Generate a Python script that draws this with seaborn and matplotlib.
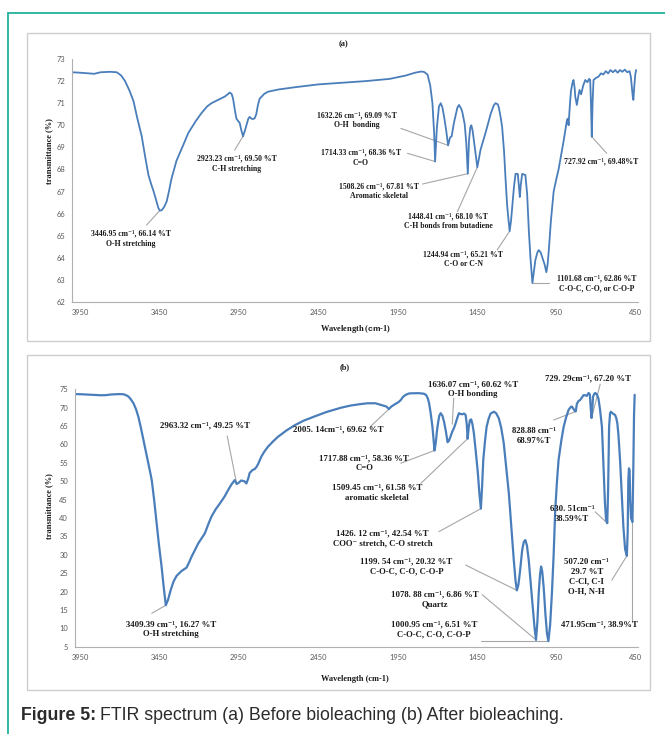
import matplotlib
matplotlib.use("Agg")
import matplotlib.pyplot as plt
from matplotlib.lines import Line2D
from matplotlib.patches import Rectangle
import pandas as pd
import seaborn as sns

# ---------------- spectrum (a): before bioleaching ----------------
wn_a = [4000, 3950, 3900, 3860, 3820, 3760, 3718, 3690, 3666, 3640, 3613, 3590, 3561, 3540,
        3519, 3500, 3488, 3470, 3456, 3446.95, 3436, 3420, 3404, 3390, 3373, 3342, 3300, 3268,
        3220, 3185, 3150, 3122, 3080, 3038, 3020, 3007, 2995, 2986, 2975, 2965, 2955, 2944,
        2935, 2923.23, 2912, 2902, 2890, 2882, 2870, 2861, 2850, 2840, 2830, 2819, 2790, 2766,
        2700, 2599, 2450, 2306, 2150, 2000, 1900, 1840, 1805, 1785, 1762, 1745, 1731, 1720,
        1714.33, 1703, 1690, 1679, 1668, 1658, 1645, 1632.26, 1620, 1610, 1596, 1574, 1564,
        1550, 1543, 1528, 1518, 1508.26, 1501, 1493, 1486, 1478, 1470, 1460, 1448.41, 1438,
        1428, 1397, 1365, 1345, 1334, 1320, 1313, 1300, 1292, 1280, 1271, 1261, 1252, 1244.94,
        1236, 1229, 1218, 1208, 1194, 1186, 1181, 1175, 1166, 1146, 1135, 1124, 1114, 1101.68,
        1092, 1083, 1070, 1062, 1050, 1041, 1025, 1014, 1006, 999, 985, 968, 950, 937, 920,
        905, 890, 884, 878, 874, 866, 859, 850, 843, 836, 832, 822, 812, 805, 795, 782, 769,
        755, 745, 738, 733, 727.92, 723, 717, 700, 686, 670, 655, 640, 625, 610, 595, 580, 565,
        550, 535, 520, 505, 490, 482, 476, 470, 466, 460, 454, 449]
t_a = [72.40, 72.38, 72.35, 72.33, 72.40, 72.42, 72.40, 72.25, 72.00, 71.60, 71.10, 70.35, 69.50,
       68.60, 67.75, 67.30, 67.05, 66.60, 66.25, 66.14, 66.15, 66.30, 66.55, 67.00, 67.60, 68.40,
       69.10, 69.65, 70.20, 70.55, 70.85, 71.00, 71.15, 71.30, 71.40, 71.48, 71.42, 71.20, 70.70,
       70.30, 70.20, 70.10, 69.80, 69.50, 69.75, 70.00, 70.30, 70.38, 70.30, 70.28, 70.32, 70.50,
       70.90, 71.20, 71.42, 71.52, 71.62, 71.72, 71.85, 71.92, 72.00, 72.10, 72.25, 72.38, 72.43,
       72.42, 72.30, 71.80, 71.00, 69.60, 68.36, 69.90, 70.85, 71.00, 70.80, 70.40, 69.80, 69.09,
       69.45, 69.50, 70.10, 70.80, 70.92, 70.75, 70.60, 70.05, 69.20, 67.81, 69.30, 69.90, 70.00,
       69.75, 69.30, 68.70, 68.10, 68.50, 68.90, 69.65, 70.50, 70.90, 71.00, 70.95, 70.80, 70.30,
       69.90, 68.80, 67.60, 66.40, 65.70, 65.21, 65.70, 66.30, 67.20, 67.80, 67.80, 67.20, 66.75,
       67.30, 67.80, 67.75, 66.90, 65.20, 64.00, 62.86, 63.40, 63.90, 64.25, 64.35, 64.25, 64.05,
       63.70, 63.35, 63.70, 64.30, 65.70, 67.00, 67.60, 68.00, 68.70, 69.30, 70.00, 70.25, 70.30,
       70.00, 70.90, 71.55, 71.90, 72.05, 71.70, 71.30, 70.92, 71.35, 71.60, 71.40, 71.80, 72.05,
       71.95, 72.10, 72.05, 71.00, 69.48, 71.00, 72.05, 72.15, 72.20, 72.35, 72.30, 72.45, 72.35,
       72.50, 72.40, 72.50, 72.38, 72.50, 72.42, 72.52, 72.40, 72.45, 72.20, 71.75, 71.30, 71.15,
       71.80, 72.30, 72.50]

# ---------------- spectrum (b): after bioleaching ----------------
wn_b = [3981, 3940, 3900, 3854, 3820, 3791, 3750, 3700, 3675, 3655, 3644, 3630, 3613, 3597, 3582,
        3566, 3550, 3535, 3519, 3508, 3498, 3483, 3467, 3452, 3436, 3422, 3409.39, 3395, 3378,
        3360, 3341, 3310, 3279, 3262, 3247, 3205, 3164, 3140, 3122, 3095, 3070, 3040, 3017, 2995,
        2976, 2963.32, 2950, 2935, 2915, 2902, 2890, 2882, 2865, 2850, 2840, 2829, 2808, 2790,
        2766, 2735, 2703, 2650, 2599, 2540, 2474, 2400, 2306, 2244, 2180, 2139, 2090, 2050, 2020,
        2005.14, 1990, 1965, 1945, 1930, 1915, 1899, 1880, 1867, 1820, 1784, 1770, 1760, 1752,
        1742, 1731, 1722, 1717.88, 1710, 1703, 1696, 1688, 1679, 1668, 1658, 1646, 1636.07, 1627,
        1616, 1606, 1595, 1585, 1574, 1564, 1554, 1543, 1532, 1522, 1515, 1509.45, 1503, 1495,
        1487, 1479, 1470, 1458, 1445, 1436, 1426.12, 1419, 1411, 1400, 1390, 1378, 1365, 1344,
        1330, 1313, 1298, 1282, 1266, 1250, 1234, 1219, 1208, 1199.54, 1190, 1181, 1173, 1166,
        1156, 1146, 1136, 1125, 1110, 1097, 1088, 1078.88, 1070, 1062, 1054, 1047, 1040, 1031,
        1020, 1010, 1000.95, 990, 979, 968, 958, 947, 937, 920, 905, 890, 874, 860, 853, 845, 836,
        828.88, 822, 812, 801, 790, 780, 770, 759, 748, 740, 735, 729.29, 724, 720, 712, 706, 696,
        686, 676, 664, 655, 645, 638, 630.51, 625, 619, 613, 608, 595, 581, 574, 567, 560, 550,
        540, 529, 518, 507.20, 502, 498, 494, 490, 486, 481, 471.95, 466, 462, 458]
t_b = [73.70, 73.65, 73.55, 73.45, 73.38, 73.40, 73.60, 73.70, 73.65, 73.30, 73.00, 72.30, 71.20,
       69.60, 67.50, 64.50, 61.20, 58.00, 54.90, 52.50, 50.30, 45.00, 38.60, 32.50, 26.80, 21.00,
       16.27, 17.80, 20.50, 22.80, 24.30, 25.60, 26.50, 28.00, 29.50, 33.10, 35.80, 38.50, 40.40,
       42.40, 43.90, 45.80, 47.60, 49.20, 50.30, 49.25, 49.60, 50.20, 50.00, 49.40, 50.80, 52.20,
       53.00, 53.30, 53.80, 54.60, 56.70, 58.00, 59.40, 60.80, 62.10, 63.80, 65.20, 66.50, 67.60,
       68.80, 70.00, 70.60, 71.00, 71.20, 71.20, 70.70, 70.30, 69.62, 70.30, 71.00, 71.50, 72.10,
       73.00, 73.50, 73.85, 73.90, 73.95, 73.80, 73.40, 72.50, 71.20, 68.50, 64.80, 60.50, 58.36,
       60.50, 63.50, 65.75, 67.80, 68.50, 67.80, 66.20, 63.50, 60.62, 61.00, 62.30, 63.50, 64.50,
       65.75, 67.30, 68.50, 68.30, 68.20, 68.40, 68.00, 65.50, 61.58, 64.50, 66.60, 66.80, 65.50,
       63.00, 58.00, 52.20, 47.00, 42.54, 48.00, 55.80, 61.00, 64.80, 66.90, 68.40, 68.90, 68.50,
       67.10, 64.50, 60.30, 53.50, 46.70, 37.50, 28.60, 23.00, 20.32, 21.80, 25.00, 28.50, 31.30,
       33.50, 34.00, 32.50, 28.60, 21.00, 14.10, 10.00, 6.86, 12.00, 19.50, 24.50, 26.80, 25.50,
       21.30, 14.00, 8.60, 6.51, 11.00, 19.50, 30.00, 42.20, 50.00, 55.80, 61.00, 64.80, 67.30,
       69.40, 70.20, 70.30, 69.80, 69.20, 68.97, 71.00, 71.80, 72.10, 72.80, 73.40, 73.40, 73.20,
       74.00, 73.60, 70.00, 67.20, 70.00, 73.00, 73.80, 74.00, 73.60, 72.50, 69.50, 64.80, 55.00,
       44.00, 39.50, 38.59, 48.00, 64.80, 68.40, 68.90, 68.40, 68.00, 67.20, 65.75, 62.50, 55.80,
       47.00, 37.60, 31.50, 29.70, 36.00, 50.00, 53.50, 53.00, 45.00, 40.00, 38.90, 55.00, 68.00,
       73.50]

# ---------------- annotated bands ----------------
peak_wn_a = [3446.95, 2923.23, 1632.26, 1714.33, 1508.26, 1448.41, 1244.94, 1101.68, 727.92]
peak_t_a = [66.14, 69.50, 69.09, 68.36, 67.81, 68.10, 65.21, 62.86, 69.48]
labels_a = [
    "3446.95 cm⁻¹, 66.14 %T\nO-H stretching",
    "2923.23 cm⁻¹, 69.50 %T\nC-H stretching",
    "1632.26 cm⁻¹, 69.09 %T\nO-H  bonding",
    "1714.33 cm⁻¹, 68.36 %T\nC=O",
    "1508.26 cm⁻¹, 67.81 %T\nAromatic skeletal",
    "1448.41 cm⁻¹, 68.10 %T\nC-H bonds from butadiene",
    "1244.94 cm⁻¹, 65.21 %T\nC-O or C-N",
    "1101.68 cm⁻¹, 62.86 %T\nC-O-C, C-O, or C-O-P",
    "727.92 cm⁻¹, 69.48%T",
]

peak_wn_b = [3409.39, 2963.32, 2005.14, 1636.07, 1717.88, 1509.45, 1426.12, 1199.54,
             1078.88, 1000.95, 828.88, 729.29, 630.51, 507.20, 471.95]
peak_t_b = [16.27, 49.25, 69.62, 60.62, 58.36, 61.58, 42.54, 20.32,
            6.86, 6.51, 68.97, 67.20, 38.59, 29.7, 38.9]
labels_b = [
    "3409.39 cm⁻¹, 16.27 %T\nO-H stretching",
    "2963.32 cm⁻¹, 49.25 %T",
    "2005. 14cm⁻¹, 69.62 %T",
    "1636.07 cm⁻¹, 60.62 %T\nO-H bonding",
    "1717.88 cm⁻¹, 58.36 %T\nC=O",
    "1509.45 cm⁻¹, 61.58 %T\naromatic skeletal",
    "1426. 12 cm⁻¹, 42.54 %T\nCOO⁻ stretch, C-O stretch",
    "1199. 54 cm⁻¹, 20.32 %T\nC-O-C, C-O, C-O-P",
    "1078. 88 cm⁻¹, 6.86 %T\nQuartz",
    "1000.95 cm⁻¹, 6.51 %T\nC-O-C, C-O, C-O-P",
    "828.88 cm⁻¹\n68.97%T",
    "729. 29cm⁻¹, 67.20 %T",
    "630. 51cm⁻¹\n38.59%T",
    "507.20 cm⁻¹\n29.7 %T\nC-Cl, C-I\nO-H, N-H",
    "471.95cm⁻¹, 38.9%T",
]

x_ticks = [3950, 3450, 2950, 2450, 1950, 1450, 950, 450]
y_ticks_a = list(range(62, 74))
y_ticks_b = list(range(5, 80, 5))

# label placement (text centre, leader start) in data units
text_pos_a = [(3630, 64.87), (2963, 68.26), (2206, 70.22), (2181, 68.52), (2068, 67.01),
              (1633, 65.65), (1538, 63.93), (700, 62.83), (669, 68.35)]
lead_a = [(3530, 65.49), (2976, 68.88), (1930, 69.86), (1888, 68.73), (1794, 67.34),
          (1574, 66.09), (1323, 64.36), (999, 62.86), (634, 68.73)]
text_pos_b = [(3379, 9.73), (3161, 65.3), (2327, 64.1), (1478, 75.1), (2160, 55.0), (2080, 46.85),
              (2045, 34.4), (1895, 26.9), (1717, 17.8), (1721, 9.76), (1089, 62.4), (754, 78.0),
              (851, 41.1), (760, 24.1), (681, 11.1)]
lead_b = [(3498, 14.08), (3023, 62.3), (2118, 65.0), (1597, 72.6), (1930, 54.9), (1804, 49.4),
          (1690, 36.3), (1522, 27.2), (1417, 19.1), (1428, 6.51), (968, 66.65), (675, 76.4),
          (707, 41.7), (602, 23.1), (471.95, 11.8)]
lead_end_override_b = {3: (1606, 65.5)}

# ---------------- styling ----------------
W, H = 665, 734
sns.set_theme(style="white")
SERIF = ["Liberation Serif", "DejaVu Serif"]
plt.rcParams.update({
    "font.family": SERIF,
    "mathtext.fontset": "custom",
    "mathtext.rm": "Liberation Serif:bold",
    "mathtext.sf": "Liberation Sans:bold",
    "mathtext.default": "rm",
})

LINE = "#4a7ebb"
LEAD = "#a6a6a6"
TXT = "#1a1a1a"
TEAL = "#22b29e"
TICK = "#595959"


def fx(px):
    return px / W


def fy(py):
    return 1 - py / H


fig = plt.figure(figsize=(W / 100, H / 100), dpi=100)
fig.patch.set_facecolor("white")

# outer page rules
fig.add_artist(Line2D([fx(8), fx(8)], [0, fy(13)], transform=fig.transFigure, color=TEAL, lw=1.3))
fig.add_artist(Line2D([fx(8), 1], [fy(13), fy(13)], transform=fig.transFigure, color=TEAL, lw=1.3))

# panel frames
for top, bottom in [(33, 341), (355, 690)]:
    fig.add_artist(Rectangle((fx(27), fy(bottom)), fx(650) - fx(27), fy(top) - fy(bottom),
                             transform=fig.transFigure, fill=False, edgecolor="#cdcdcd", lw=1.0))


def make_axes(left, right, top, bottom):
    return fig.add_axes([fx(left), fy(bottom), fx(right) - fx(left), fy(top) - fy(bottom)])


def style_axes(ax, xlim, ylim, yticks):
    ax.set_xlim(*xlim)
    ax.set_ylim(*ylim)
    ax.set_xticks(x_ticks)
    ax.set_xticklabels([str(v) for v in x_ticks])
    ax.set_yticks(yticks)
    ax.set_yticklabels([str(v) for v in yticks])
    ax.set_xlabel("")
    ax.set_ylabel("")
    for s in ["top", "right"]:
        ax.spines[s].set_visible(False)
    for s in ["left", "bottom"]:
        ax.spines[s].set_color("#b0b0b0")
        ax.spines[s].set_linewidth(0.8)
    ax.tick_params(axis="both", which="major", direction="out", length=2.5, width=0.6,
                   color="#a0a0a0", labelsize=5.4, labelcolor=TICK, pad=2.5)
    for lab in ax.get_xticklabels() + ax.get_yticklabels():
        lab.set_fontfamily("Lato")
    ax.set_facecolor("none")


def draw_labels(ax, peaks_x, peaks_y, labels, pos, leads, size, spacing, overrides=None):
    overrides = overrides or {}
    for i, (px_, py_, lab) in enumerate(zip(peaks_x, peaks_y, labels)):
        end = overrides.get(i, (px_, py_))
        ax.plot([leads[i][0], end[0]], [leads[i][1], end[1]], color=LEAD, lw=0.8,
                clip_on=False, zorder=1)
        ax.text(pos[i][0], pos[i][1], lab, ha="center", va="center", fontsize=size,
                fontweight="bold", family=SERIF, color=TXT, linespacing=spacing,
                clip_on=False, zorder=3, multialignment="center")


# ---- panel (a)
ax_a = make_axes(72, 638, 59, 302)
df_a = pd.DataFrame({"wavenumber": wn_a, "transmittance": t_a})
sns.lineplot(data=df_a, x="wavenumber", y="transmittance", ax=ax_a, color=LINE, lw=1.3,
             estimator=None, sort=False, zorder=2)
style_axes(ax_a, (4000, 437), (62, 73), y_ticks_a)
draw_labels(ax_a, peak_wn_a, peak_t_a, labels_a, text_pos_a, lead_a, 5.6, 1.35)

# ---- panel (b)
ax_b = make_axes(75, 638, 389.3, 646.7)
df_b = pd.DataFrame({"wavenumber": wn_b, "transmittance": t_b})
sns.lineplot(data=df_b, x="wavenumber", y="transmittance", ax=ax_b, color=LINE, lw=1.6,
             estimator=None, sort=False, zorder=2)
style_axes(ax_b, (3981, 437), (5, 75), y_ticks_b)
draw_labels(ax_b, peak_wn_b, peak_t_b, labels_b, text_pos_b, lead_b, 6.3, 1.3,
            lead_end_override_b)

# panel titles and axis titles
title_kw = dict(ha="center", va="center", fontsize=6, fontweight="bold", color=TXT)
fig.text(fx(343), fy(44), "(a)", **title_kw)
fig.text(fx(345), fy(367), "(b)", **title_kw)
fig.text(fx(49), fy(151), "transmittance (%)", rotation=90, **title_kw)
fig.text(fx(49), fy(506), "transmittance (%)", rotation=90, **title_kw)
fig.text(fx(356), fy(329), r"Wavelength ($\mathsf{cm}$-1)", **title_kw)
fig.text(fx(355), fy(679), "Wavelength (cm-1)", **title_kw)

# caption
fig.canvas.draw()
renderer = fig.canvas.get_renderer()
cap_kw = dict(va="center", ha="left", fontsize=12.8, fontfamily="Liberation Sans", color="#2b2b2b")
t1 = fig.text(fx(21), fy(716), "Figure 5:", fontweight="bold", **cap_kw)
bb = t1.get_window_extent(renderer)
fig.text(bb.x1 / fig.bbox.width + fx(4), fy(716),
         "FTIR spectrum (a) Before bioleaching (b) After bioleaching.", **cap_kw)

fig.savefig("out.png", dpi=100, facecolor="white")
